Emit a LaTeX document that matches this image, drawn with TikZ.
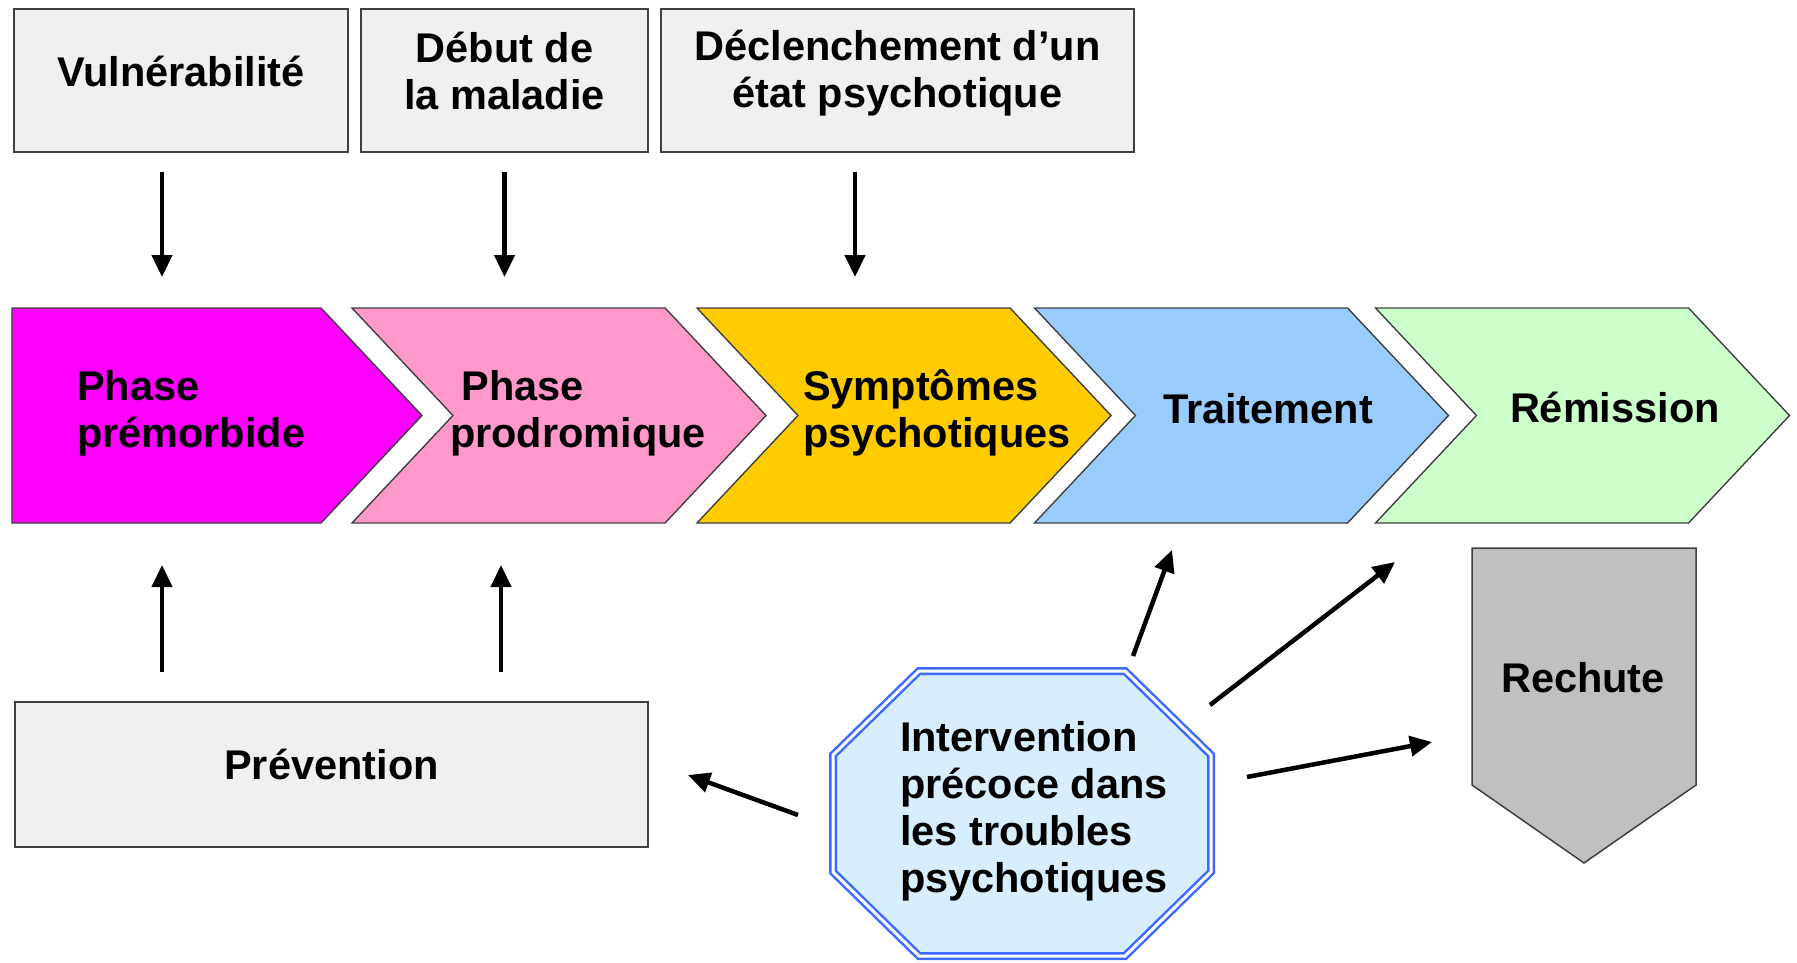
\documentclass[tikz,border=0pt]{standalone}
\usepackage{fontspec}
\setmainfont{Liberation Sans}
\usetikzlibrary{arrows.meta,shapes.symbols}

\definecolor{cLine}{HTML}{404040}
\definecolor{cBox}{HTML}{F0F0F0}
\definecolor{cMag}{HTML}{FF00FF}
\definecolor{cPink}{HTML}{FF99CC}
\definecolor{cGold}{HTML}{FFCC00}
\definecolor{cSky}{HTML}{99CCFF}
\definecolor{cMint}{HTML}{CCFFCC}
\definecolor{cGrey}{HTML}{C0C0C0}
\definecolor{cIce}{HTML}{D7EEFF}
\definecolor{cBlue}{HTML}{3D6BFF}

\tikzset{
  every node/.style={font=\fontsize{41.5}{47}\selectfont\bfseries, inner sep=0pt, outer sep=0pt},
  topbox/.style={draw=cLine, line width=1.8pt, fill=cBox, align=center, minimum height=143pt},
  chev/.style={signal, signal to=east, signal from=west, signal pointer angle=93.6,
    draw=cLine, line width=1.4pt, minimum width=414pt, minimum height=215pt},
  lbl/.style={align=left, anchor=base west},
  octo/.style={draw=cBlue, double=white, double distance=3pt, line width=2.5pt, fill=cIce},
  arr/.style={line width=4.5pt, -{Triangle[length=22pt,width=20pt]}},
}

\begin{document}
\begin{tikzpicture}[x=1pt, y=-1pt]
\useasboundingbox (0,0) rectangle (1797,963);

% top row
\node[topbox, minimum width=334pt, text height=32pt, text depth=19pt] (vuln) at (181,80.5) {Vulnérabilité};
\node[topbox, minimum width=287pt, text depth=20pt] (debut) at (504.5,80.5) {Début de\\la maladie};
\node[topbox, minimum width=473pt, text depth=24pt] (declen) at (897.5,80.5) {Déclenchement d’un\\état psychotique};

% phases
\node[chev, fill=cMag, signal from=nowhere, minimum width=410pt] (premorb) at (166.5,415.5) {};
\node[chev, fill=cPink] (prodrom) at (559,415.5) {};
\node[chev, fill=cGold] (sympt) at (904,415.5) {};
\node[chev, fill=cSky] (trait) at (1241.5,415.5) {};
\node[chev, fill=cMint] (remis) at (1582.5,415.5) {};

\node[lbl] (tPremorb) at (77,447) {Phase\\prémorbide};
\node[lbl] (tProdrom) at (450,447) {\hspace*{11.5pt}Phase\\prodromique};
\node[lbl] (tSympt) at (803,447) {Symptômes\\psychotiques};
\node[lbl] (tTrait) at (1163,423) {Traitement};
\node[lbl] (tRemis) at (1510,422) {Rémission};

% lower row
\node[topbox, minimum width=633pt, minimum height=145pt, text height=32pt, text depth=23pt] (prev) at (331.5,774.5) {Prévention};
\node[signal, signal to=south, signal from=nowhere, signal pointer angle=110.3,
  draw=cLine, line width=1.5pt, fill=cGrey, minimum width=224pt, minimum height=237pt] (rechute) at (1584,666.5) {};
\node[anchor=base] (tRechute) at (1583,692) {Rechute};

\node[minimum width=378pt, minimum height=285pt] (interv) at (1022,813.5) {};
\draw[octo] ([xshift=86pt]interv.north west) -- ([xshift=-86pt]interv.north east)
  -- ([yshift=-84pt]interv.north east) -- ([yshift=84pt]interv.south east)
  -- ([xshift=-86pt]interv.south east) -- ([xshift=86pt]interv.south west)
  -- ([yshift=84pt]interv.south west) -- ([yshift=-84pt]interv.north west) -- cycle;
\node[lbl] (tInterv) at (900,892) {Intervention\\précoce dans\\les troubles\\psychotiques};

% arrows
\draw[arr] ([xshift=-19pt,yshift=-20pt]vuln.south) -- ++(0,105);
\draw[arr] ([yshift=-20pt]debut.south) -- ++(0,105);
\draw[arr] ([xshift=-42.5pt,yshift=-20pt]declen.south) -- ++(0,105);
\draw[arr] ([xshift=-169.5pt,yshift=30pt]prev.north) -- ++(0,-107);
\draw[arr] ([xshift=169.5pt,yshift=30pt]prev.north) -- ++(0,-107);
\draw[arr] ([shift={(111,-157.5)}]interv.center) -- ++(39,-106);
\draw[arr] ([shift={(188,-108.5)}]interv.center) -- ++(185,-143);
\draw[arr] ([shift={(225,-36.5)}]interv.center) -- ++(185,-35);
\draw[arr] ([shift={(-224,1.5)}]interv.center) -- ++(-110,-40);
\end{tikzpicture}
\end{document}
